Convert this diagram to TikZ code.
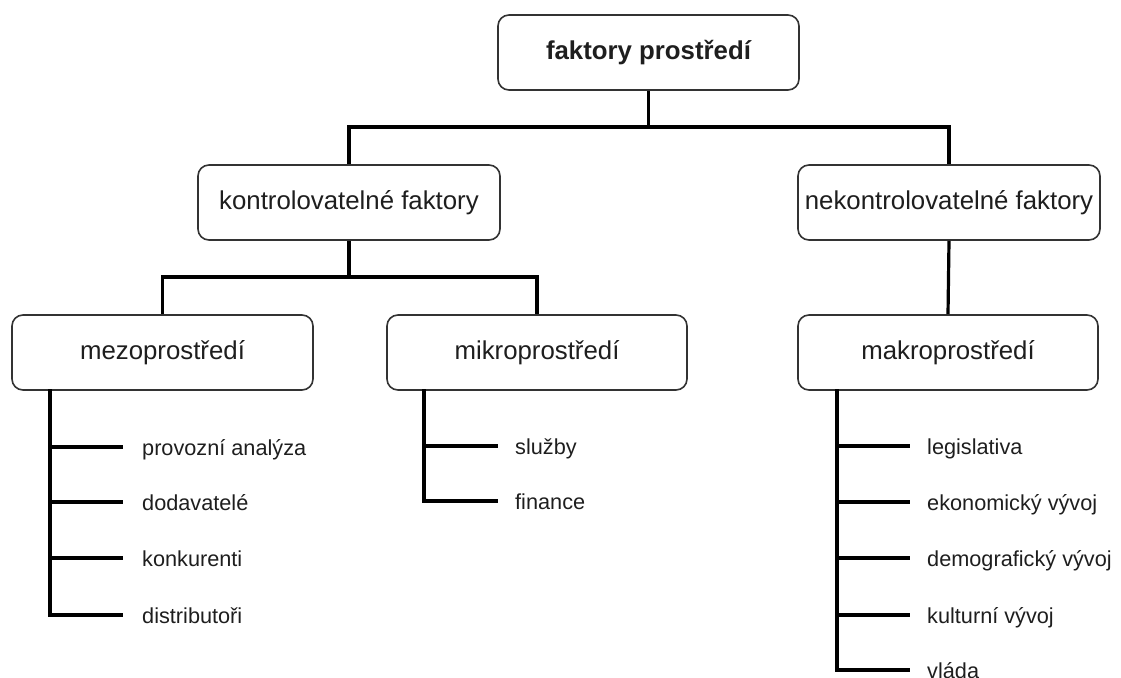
\documentclass[tikz,border=0pt]{standalone}
\usepackage{fontspec}
\setmainfont{Liberation Sans}
\definecolor{boxline}{HTML}{333333}
\definecolor{txt}{HTML}{1E1E1E}
\tikzset{
  box/.style={draw=boxline, line width=1.6pt, rounded corners=11pt, fill=white,
    minimum width=301pt, minimum height=75pt, inner sep=0pt, text=txt,
    font=\fontsize{25.8}{30}\selectfont},
  leaf/.style={anchor=west, inner sep=0pt, text height=16pt, text depth=0pt, text=txt,
    font=\fontsize{21.7}{26}\selectfont},
  conn/.style={draw=black, line width=3.2pt, line join=miter}
}
\begin{document}
\begin{tikzpicture}[x=1pt,y=-1pt]
\useasboundingbox (0,0) rectangle (1121,677);
% boxes
\node[box, font=\fontsize{25.8}{30}\selectfont\bfseries] (top) at (648.5,52.5) {faktory prostředí};
\node[box, minimum width=302pt] (kon) at (349,202.5) {kontrolovatelné faktory};
\node[box, minimum width=302pt] (nek) at (949,202.5) {nekontrolovatelné faktory};
\node[box] (mezo) at (162.5,352.5) {mezoprostředí};
\node[box, minimum width=300pt] (mikro) at (537,352.5) {mikroprostředí};
\node[box, minimum width=300pt] (makro) at (948,352.5) {makroprostředí};
% junctions
\coordinate (j1) at (648.5,127);
\coordinate (j2) at (349,277);
\draw[conn] (top.south) -- (j1);
\draw[conn] (kon.north) |- (j1) -| (nek.north);
\draw[conn] (kon.south) -- (j2);
\draw[conn] (mezo.north) |- (j2) -| (mikro.north);
\draw[conn] (nek.south) -- (makro.north);
% leaves: mezo
\node[leaf] (p1) at (142,447) {provozní analýza};
\node[leaf] (p2) at (142,502) {dodavatelé};
\node[leaf] (p3) at (142,558) {konkurenti};
\node[leaf] (p4) at (142,615) {distributoři};
\coordinate (m0) at (50,389);
\draw[conn] (m0) |- ([xshift=-19pt]p4.west);
\foreach \n in {p1,p2,p3} \draw[conn] (m0 |- \n.west) -- ([xshift=-19pt]\n.west);
% leaves: mikro
\node[leaf] (s1) at (515,446) {služby};
\node[leaf] (s2) at (515,501) {finance};
\coordinate (k0) at (424,389);
\draw[conn] (k0) |- ([xshift=-17pt]s2.west);
\draw[conn] (k0 |- s1.west) -- ([xshift=-17pt]s1.west);
% leaves: makro
\node[leaf] (v1) at (927,446) {legislativa};
\node[leaf] (v2) at (927,502) {ekonomický vývoj};
\node[leaf] (v3) at (927,558) {demografický vývoj};
\node[leaf] (v4) at (927,615) {kulturní vývoj};
\node[leaf] (v5) at (927,670) {vláda};
\coordinate (a0) at (837,389);
\draw[conn] (a0) |- ([xshift=-17pt]v5.west);
\foreach \n in {v1,v2,v3,v4} \draw[conn] (a0 |- \n.west) -- ([xshift=-17pt]\n.west);
\end{tikzpicture}
\end{document}
